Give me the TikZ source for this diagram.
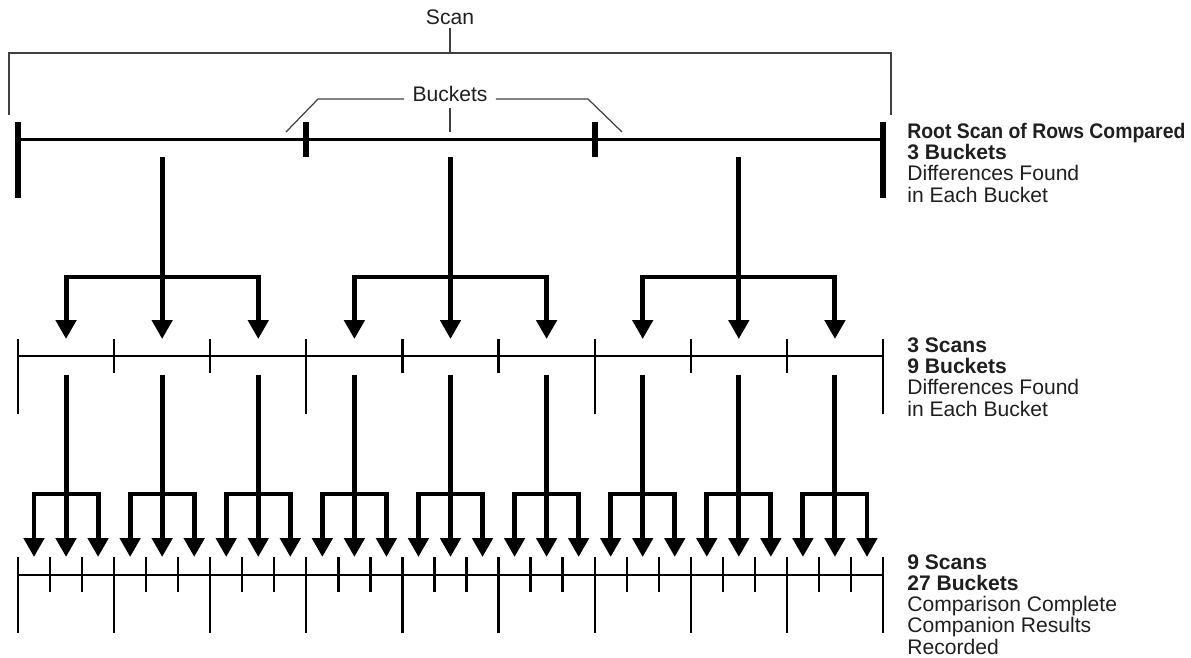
\documentclass[tikz,border=0pt]{standalone}
\usepackage{fontspec}
\setmainfont{Liberation Sans}
\usetikzlibrary{arrows.meta}
\usetikzlibrary{calc}

\begin{document}
\begin{tikzpicture}[x=0.02cm, y=-0.02cm,
    lbl/.style={font=\fontsize{12}{12}\selectfont, text=black!88, inner sep=0},
    brace/.style={draw=black!75, line width=0.7pt},
    fat/.style={line width=2.8pt, line join=miter, -{Triangle[width=0.4cm,length=0.38cm]}}]
    \useasboundingbox (0,0) rectangle (1191,657);
    \def\wa{288.333}
    \def\wb{96.111}
    \def\wc{32.037}
    % brackets over the root scan
    \node[lbl, anchor=base] (scan) at (450,24) {Scan};
    \draw[brace] (scan.south) ++(0,3) -- (450,53);
    \draw[brace] (9,115) |- (891,53) -- (891,115);
    \node[lbl, anchor=base, inner xsep=0.16cm] (bkt) at (450,101) {Buckets};
    \coordinate (bl) at (318,99);
    \coordinate (br) at (588,99);
    \draw[brace] (286,132) -- (bl) -- (bl -| bkt.west);
    \draw[brace] (bkt.east |- br) -- (br) -- (622,132);
    \draw[brace] (bkt.south) ++(0,6) -- (450,132);
    % root scan, 3 buckets
    \draw[line width=1.7pt] (18,139) -- (883,139);
    \foreach \x in {18,883}
        \draw[line width=3.4pt] (\x,122) -- (\x,198);
    \foreach \i in {1,2}
        \draw[line width=3.4pt] (18+\i*\wa,122) -- (18+\i*\wa,157);
    \foreach \i in {0,1,2} {
        \pgfmathsetmacro\cx{18+(\i+0.5)*\wa}
        \draw[fat] (\cx,157) -- (\cx,339);
        \draw[fat] (\cx,277) -| (\cx-\wb,339);
        \draw[fat] (\cx,277) -| (\cx+\wb,339);
    }
    % 3 scans, 9 buckets
    \draw[line width=0.85pt] (18,356) -- (883,356);
    \foreach \j in {0,...,9} {
        \pgfmathsetmacro\yb{mod(\j,3)==0 ? 414 : 373}
        \draw[line width=1.3pt] (18+\j*\wb,339) -- (18+\j*\wb,\yb);
    }
    \foreach \k in {0,...,8} {
        \pgfmathsetmacro\cx{18+(\k+0.5)*\wb}
        \draw[fat] (\cx,375) -- (\cx,557);
        \draw[fat] (\cx,494) -| (\cx-\wc,557);
        \draw[fat] (\cx,494) -| (\cx+\wc,557);
    }
    % 9 scans, 27 buckets
    \draw[line width=0.85pt] (18,575) -- (883,575);
    \foreach \j in {0,...,27} {
        \pgfmathsetmacro\yb{mod(\j,3)==0 ? 633 : 592}
        \draw[line width=1.3pt] (18+\j*\wc,557) -- (18+\j*\wc,\yb);
    }
    % notes on the right (anchored at the last line)
    \node[lbl, anchor=base west, align=left] (root) at (907,202)
        {\scalebox{0.92}[1]{\textbf{Root Scan of Rows Compared}}\\\textbf{3 Buckets}\\Differences Found\\in Each Bucket};
    \node[lbl, anchor=base west, align=left] (mid) at (907,416)
        {\textbf{3 Scans}\\\textbf{9 Buckets}\\Differences Found\\in Each Bucket};
    \node[lbl, anchor=base west, align=left] (leaf) at (907,654)
        {\textbf{9 Scans}\\\textbf{27 Buckets}\\Comparison Complete\\Companion Results\\Recorded};
\end{tikzpicture}
\end{document}
